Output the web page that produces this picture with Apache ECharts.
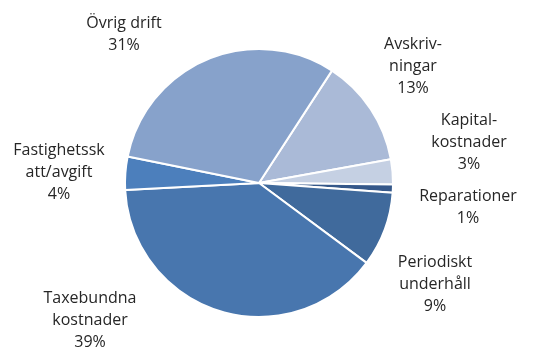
<!DOCTYPE html>
<html><head><meta charset="utf-8">
<script src="https://cdn.jsdelivr.net/npm/echarts@6/dist/echarts.min.js"></script>
<style>html,body{margin:0;padding:0;background:#fff}#c{width:537px;height:350px}</style>
</head><body><div id="c"></div>
<script>
const categories = ["Avskriv-\nningar", "Kapital-\nkostnader", "Reparationer", "Periodiskt\nunderhåll", "Taxebundna\nkostnader", "Fastighetssk\natt/avgift", "Övrig drift"];
const values = [13, 3, 1, 9, 39, 4, 31];
const colors = ["#AABAD7", "#C5D0E3", "#35588A", "#406A9C", "#4876AE", "#4C7FBC", "#87A2CB"];
// label block centres (layout only)
const labelPos = [[413, 66], [469, 142], [468, 207], [435, 284], [90, 320], [59, 172], [124, 34]];

const chart = echarts.init(document.getElementById('c'), null, {renderer: 'canvas'});
chart.setOption({
  animation: false,
  series: [{
    type: 'pie',
    center: [259, 183],
    radius: 134,
    startAngle: 57,
    clockwise: true,
    avoidLabelOverlap: false,
    data: categories.map((n, i) => ({name: n, value: values[i], itemStyle: {color: colors[i]}})),
    itemStyle: {borderColor: '#fff', borderWidth: 2},
    label: {
      show: true,
      position: 'outside',
      formatter: p => p.name + '\n' + p.value + '%',
      fontFamily: 'Open Sans',
      fontSize: 16,
      lineHeight: 22,
      color: '#262626',
      align: 'center'
    },
    labelLine: {show: false},
    labelLayout: p => ({x: labelPos[p.dataIndex][0], y: labelPos[p.dataIndex][1], align: 'center', verticalAlign: 'middle'})
  }]
});
</script></body></html>
